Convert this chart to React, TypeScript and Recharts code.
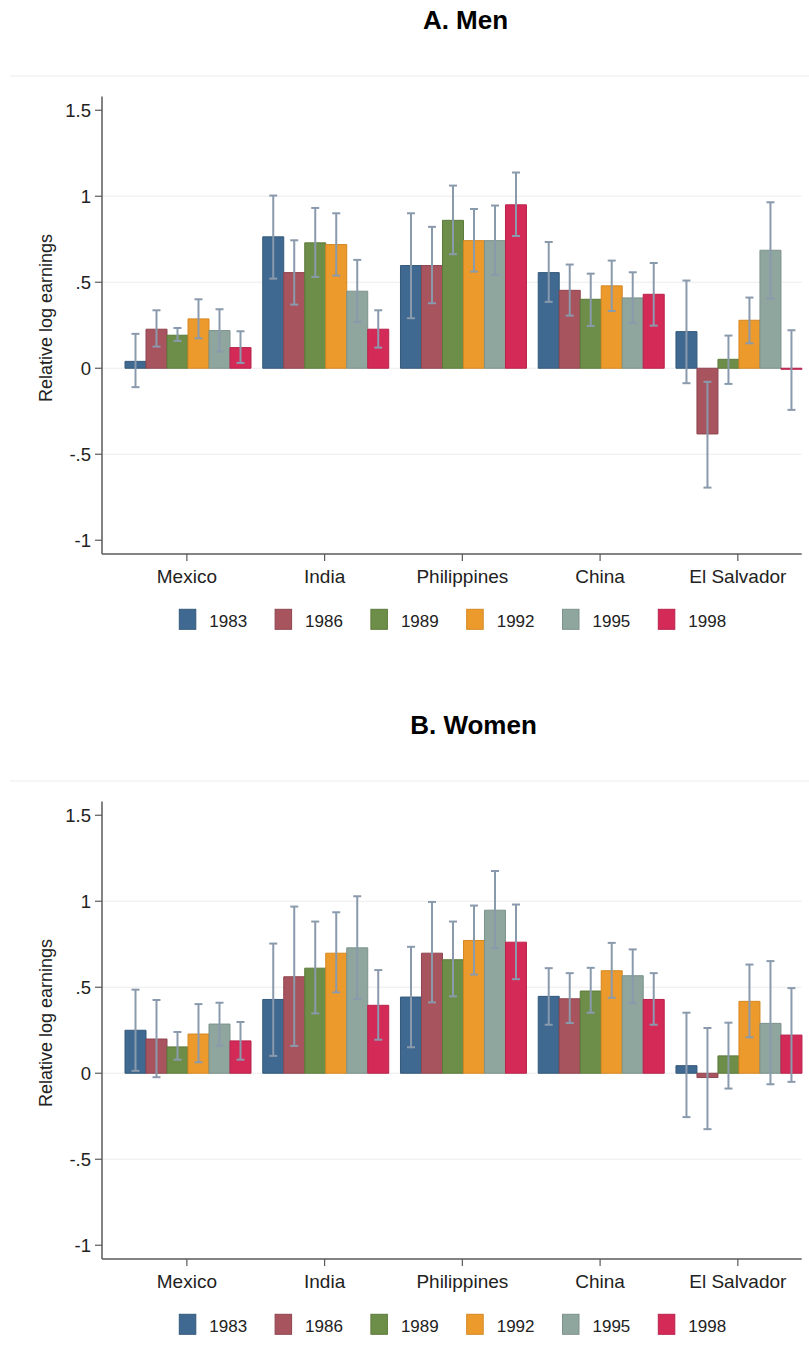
import React from "react";
import { BarChart, Bar, XAxis, YAxis, CartesianGrid, ErrorBar } from "recharts";

// Countries of origin and survey years
const countries = ["Mexico", "India", "Philippines", "China", "El Salvador"];
const years = ["1983", "1986", "1989", "1992", "1995", "1998"];
const yearColors = ["#3F6990", "#A8545E", "#6D8E48", "#EC9A2C", "#8FA69E", "#D42A58"];
const yearEdges = ["#34597B", "#8E4550", "#5C7A3B", "#D48722", "#7C928A", "#B8224B"];

// Y axis ticks and their printed labels
const yTicks = [-1, -0.5, 0, 0.5, 1, 1.5];
const yTickLabels = ["-1", "-.5", "0", ".5", "1", "1.5"];
const gridValues = [-0.5, 0, 0.5, 1];

// Men: point estimates and 95% CI bounds, one row per country, one column per year
const menEst = [
  [0.04, 0.227, 0.192, 0.287, 0.219, 0.12],
  [0.764, 0.556, 0.729, 0.719, 0.448, 0.227],
  [0.597, 0.597, 0.86, 0.742, 0.742, 0.95],
  [0.556, 0.453, 0.401, 0.479, 0.409, 0.43],
  [0.213, -0.382, 0.052, 0.279, 0.686, -0.006],
];
const menLo = [
  [-0.11, 0.126, 0.159, 0.174, 0.097, 0.031],
  [0.521, 0.37, 0.531, 0.539, 0.269, 0.12],
  [0.291, 0.378, 0.663, 0.562, 0.543, 0.769],
  [0.386, 0.306, 0.246, 0.333, 0.264, 0.248],
  [-0.087, -0.694, -0.091, 0.145, 0.405, -0.242],
];
const menHi = [
  [0.2, 0.337, 0.234, 0.401, 0.343, 0.215],
  [1.004, 0.744, 0.932, 0.901, 0.63, 0.337],
  [0.901, 0.822, 1.062, 0.926, 0.946, 1.138],
  [0.734, 0.603, 0.55, 0.626, 0.558, 0.612],
  [0.51, -0.079, 0.19, 0.411, 0.965, 0.221],
];

// Women: point estimates and 95% CI bounds
const womenEst = [
  [0.25, 0.199, 0.153, 0.228, 0.286, 0.188],
  [0.429, 0.561, 0.611, 0.698, 0.729, 0.395],
  [0.443, 0.698, 0.66, 0.772, 0.948, 0.762],
  [0.447, 0.433, 0.478, 0.596, 0.567, 0.429],
  [0.044, -0.025, 0.101, 0.418, 0.29, 0.222],
];
const womenLo = [
  [0.014, -0.023, 0.079, 0.064, 0.161, 0.079],
  [0.101, 0.159, 0.348, 0.47, 0.431, 0.195],
  [0.151, 0.412, 0.447, 0.574, 0.727, 0.547],
  [0.282, 0.292, 0.352, 0.439, 0.408, 0.282],
  [-0.255, -0.325, -0.089, 0.209, -0.064, -0.05],
];
const womenHi = [
  [0.486, 0.426, 0.24, 0.402, 0.41, 0.298],
  [0.754, 0.969, 0.882, 0.936, 1.029, 0.6],
  [0.735, 0.996, 0.882, 0.975, 1.176, 0.981],
  [0.611, 0.582, 0.613, 0.758, 0.72, 0.582],
  [0.352, 0.263, 0.294, 0.632, 0.652, 0.495],
];

const FONT = "'Liberation Sans', Arial, Helvetica, sans-serif";
const PANEL_H = 704.7;
const CI_COLOR = "#8A9AAD";
const AXIS_COLOR = "#5A5A5A";

function buildRows(est: number[][], lo: number[][], hi: number[][]) {
  return countries.map((c, i) => {
    const row: Record<string, any> = { country: c };
    years.forEach((y, j) => {
      const v = est[i][j];
      row["v" + y] = v;
      row["e" + y] = [v - lo[i][j], hi[i][j] - v];
    });
    return row;
  });
}

function formatY(v: number) {
  const idx = yTicks.indexOf(v);
  return idx >= 0 ? yTickLabels[idx] : String(v);
}

type PanelProps = {
  title: string;
  titleX: number;
  top: number;
  est: number[][];
  lo: number[][];
  hi: number[][];
};

function Panel({ title, titleX, top, est, lo, hi }: PanelProps) {
  const rows = buildRows(est, lo, hi);
  return (
    <div style={{ position: "absolute", left: 0, top, width: 809, height: PANEL_H }}>
      <div style={{ position: "absolute", left: 0, top: 0 }}>
        <BarChart
          width={809}
          height={640}
          data={rows}
          margin={{ top: 96.5, right: 7.3, left: 0, bottom: 0 }}
          barCategoryGap={7}
          barGap={0}
        >
          <CartesianGrid
            horizontal={true}
            vertical={false}
            horizontalValues={gridValues}
            stroke="#ECECEC"
            strokeWidth={1.2}
          />
          <XAxis
            dataKey="country"
            type="category"
            height={86}
            padding={{ left: 16, right: -5 }}
            tickSize={7}
            tickMargin={9}
            axisLine={{ stroke: AXIS_COLOR, strokeWidth: 1.5 }}
            tickLine={{ stroke: AXIS_COLOR, strokeWidth: 1.2 }}
            tick={{ fill: "#222", fontSize: 19, fontFamily: FONT }}
            interval={0}
          />
          <YAxis
            type="number"
            domain={[-1.08, 1.58]}
            ticks={yTicks}
            allowDataOverflow={true}
            width={102}
            tickSize={7}
            tickMargin={4}
            tickFormatter={formatY}
            axisLine={{ stroke: AXIS_COLOR, strokeWidth: 1.5 }}
            tickLine={{ stroke: AXIS_COLOR, strokeWidth: 1.2 }}
            tick={{ fill: "#222", fontSize: 18.5, fontFamily: FONT }}
          />
          {years.map((y, j) => (
            <Bar
              key={y}
              dataKey={"v" + y}
              fill={yearColors[j]}
              stroke={yearEdges[j]}
              strokeWidth={1}
              isAnimationActive={false}
            >
              <ErrorBar
                dataKey={"e" + y}
                width={4}
                stroke={CI_COLOR}
                strokeWidth={2}
                isAnimationActive={false}
              />
            </Bar>
          ))}
        </BarChart>
      </div>
      <svg
        width={809}
        height={PANEL_H}
        style={{ position: "absolute", left: 0, top: 0, pointerEvents: "none" }}
      >
        <text
          x={titleX}
          y={29.3}
          textAnchor="middle"
          fontFamily={FONT}
          fontWeight="bold"
          fontSize={26}
          fill="#000"
        >
          {title}
        </text>
        <line x1={10} x2={809} y1={76} y2={76} stroke="#EDEDED" strokeWidth={1.2} />
        <text
          x={0}
          y={0}
          transform="translate(51.5 318) rotate(-90)"
          textAnchor="middle"
          fontFamily={FONT}
          fontSize={18}
          fill="#222"
        >
          Relative log earnings
        </text>
        {years.map((y, j) => {
          const x = 179.3 + j * 95.8;
          return (
            <g key={y}>
              <rect
                x={x}
                y={609.3}
                width={16.5}
                height={20}
                fill={yearColors[j]}
                stroke={yearEdges[j]}
                strokeWidth={1}
              />
              <text x={x + 30} y={626.7} fontFamily={FONT} fontSize={17} fill="#222">
                {y}
              </text>
            </g>
          );
        })}
      </svg>
    </div>
  );
}

export default function App() {
  return (
    <div
      style={{
        position: "absolute",
        left: 0,
        top: 0,
        width: 809,
        height: 1363,
        background: "#fff",
        overflow: "hidden",
      }}
    >
      <Panel title="A. Men" titleX={465.5} top={0} est={menEst} lo={menLo} hi={menHi} />
      <Panel
        title="B. Women"
        titleX={473.5}
        top={PANEL_H}
        est={womenEst}
        lo={womenLo}
        hi={womenHi}
      />
    </div>
  );
}
